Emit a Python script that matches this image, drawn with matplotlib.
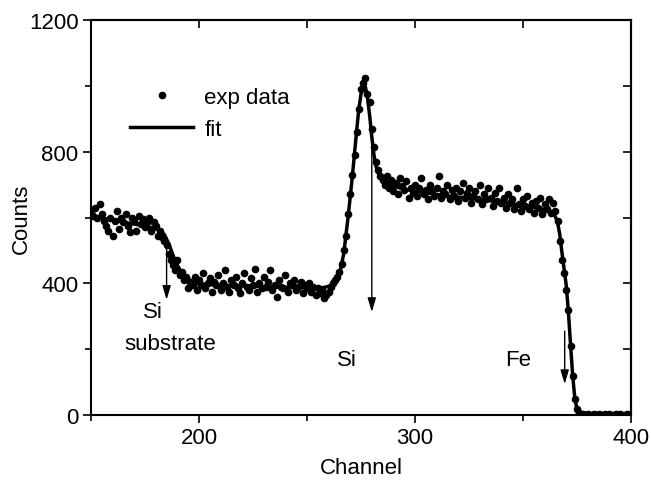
import numpy as np
import matplotlib
matplotlib.use("Agg")
import matplotlib.pyplot as plt
from matplotlib.ticker import MultipleLocator

plt.rcParams["font.family"] = ["Liberation Sans", "DejaVu Sans"]

# measured spectrum, one point per channel (150..400)
channel = np.arange(150, 401)
counts = (
    # 150-184
    [615, 605, 630, 600, 640, 610, 590, 575, 560, 600, 545, 590, 620, 565, 600,
     585, 610, 575, 555, 600, 590, 560, 605, 580, 595, 570, 585, 600, 560, 585,
     575, 545, 560, 540, 530]
    # 185-199
    + [515, 490, 470, 455, 440, 470, 425, 435, 410, 420, 385, 405, 395, 420, 380]
    # 200-257
    + [410, 395, 430, 385, 400, 415, 375, 405, 395, 425,
       380, 400, 440, 390, 375, 410, 395, 420, 385, 370,
       400, 430, 390, 380, 415, 395, 445, 375, 400, 385,
       420, 390, 405, 440, 380, 395, 360, 410, 390, 385,
       425, 375, 400, 395, 410, 380, 390, 405, 370, 395,
       385, 400, 375, 390, 365, 385, 370, 380]
    # 258-285
    + [355, 365, 375, 390, 400, 410, 420, 435, 460, 500,
       545, 610, 670, 730, 790, 860, 930, 990, 1010, 1025,
       975, 950, 870, 815, 770, 745, 725, 715]
    # 286-365
    + [700, 725, 690, 715, 680, 705, 670, 720, 695, 685,
       710, 660, 690, 675, 700, 665, 690, 720, 670, 685,
       655, 700, 680, 665, 690, 725, 660, 680, 670, 700,
       655, 685, 665, 690, 650, 680, 705, 660, 675, 690,
       645, 665, 680, 655, 700, 640, 670, 655, 690, 660,
       635, 675, 650, 690, 645, 660, 630, 670, 645, 655,
       625, 690, 640, 620, 655, 635, 665, 625, 645, 615,
       650, 630, 660, 610, 640, 625, 655, 615, 645, 620]
    # 366-400
    + [590, 530, 470, 430, 380, 320, 210, 120, 50, 18,
       6, 3, 2, 0, 4, 1, 0, 3, 0, 2,
       0, 1, 3, 0, 2, 0, 1, 4, 0, 2,
       0, 1, 3, 0, 2]
)

fit_channel = [150, 155, 160, 165, 170, 175, 179, 182, 184, 186,
               188, 190, 192, 194, 197, 200, 210, 220, 230, 240,
               250, 256, 259, 261, 263, 265, 267, 269, 271, 273,
               274, 275, 276, 277, 278, 279, 280, 281, 282, 283,
               285, 287, 290, 295, 300, 310, 320, 330, 340, 350,
               358, 362, 364, 365, 366, 367, 368, 369, 370, 371,
               372, 373, 374, 375, 376, 378, 380, 390, 400]
fit_counts = [605, 598, 592, 586, 580, 574, 568, 560, 548, 520,
              485, 455, 432, 418, 405, 398, 394, 392, 390, 388,
              386, 386, 389, 394, 405, 425, 490, 600, 725, 865,
              930, 975, 1003, 998, 965, 910, 845, 790, 755, 735,
              718, 708, 695, 686, 680, 670, 662, 655, 646, 637,
              627, 620, 612, 602, 585, 550, 495, 445, 395, 315,
              215, 120, 50, 18, 6, 2, 1, 0, 0]

# arrows: (channel, start counts, end counts)
arrows = [(185, 540, 350), (280, 824, 313), (369.3, 255, 94)]
labels = [("Si", 178.8, 313), ("substrate", 186.7, 216),
          ("Si", 268.7, 170), ("Fe", 347.8, 170)]

fig = plt.figure(figsize=(6.51, 4.81), dpi=100)
ax = fig.add_axes([91 / 651, 1 - 416 / 481, 540 / 651, 395 / 481])

ax.plot(channel, counts, "o", color="k", ms=4.5, mec="k", label="exp data")
ax.plot(fit_channel, fit_counts, "-", color="k", lw=2.5, label="fit")

for x, y0, y1 in arrows:
    ax.annotate("", xy=(x, y1), xytext=(x, y0),
                arrowprops=dict(arrowstyle="-|>,head_length=0.6,head_width=0.18",
                                color="k", lw=1, shrinkA=0, shrinkB=0,
                                mutation_scale=14))
for txt, x, y in labels:
    ax.text(x, y, txt, ha="center", va="center", fontsize=16)

ax.set_xlim(150, 400)
ax.set_ylim(0, 1200)
ax.xaxis.set_major_locator(MultipleLocator(100))
ax.xaxis.set_minor_locator(MultipleLocator(50))
ax.yaxis.set_major_locator(MultipleLocator(400))
ax.yaxis.set_minor_locator(MultipleLocator(200))
for side in ax.spines.values():
    side.set_linewidth(1.5)
ax.tick_params(which="both", labelsize=16, width=1.2, direction="out",
               top=False, right=False)
ax.tick_params(which="major", length=6, pad=3)
ax.tick_params(which="minor", length=4)
# inward ticks on the top and right spines
sec_x = ax.secondary_xaxis("top")
sec_x.xaxis.set_major_locator(MultipleLocator(50))
sec_x.tick_params(direction="in", length=6, width=1.2, labeltop=False)
sec_y = ax.secondary_yaxis("right")
sec_y.yaxis.set_major_locator(MultipleLocator(200))
sec_y.tick_params(direction="in", length=6, width=1.2, labelright=False)
sec_x.spines["top"].set_linewidth(1.5)
sec_y.spines["right"].set_linewidth(1.5)

ax.set_xlabel("Channel", fontsize=16, labelpad=6)
ax.set_ylabel("Counts", fontsize=16)
ax.yaxis.set_label_coords(-0.11, 0.5)

ax.legend(loc="upper left", bbox_to_anchor=(130 / 651, 1 - 88 / 481),
          bbox_transform=fig.transFigure, frameon=False, fontsize=16,
          handlelength=2.85, handletextpad=0.5, borderpad=0,
          borderaxespad=0, labelspacing=0.5, numpoints=1)

fig.savefig("out.png", dpi=100)
